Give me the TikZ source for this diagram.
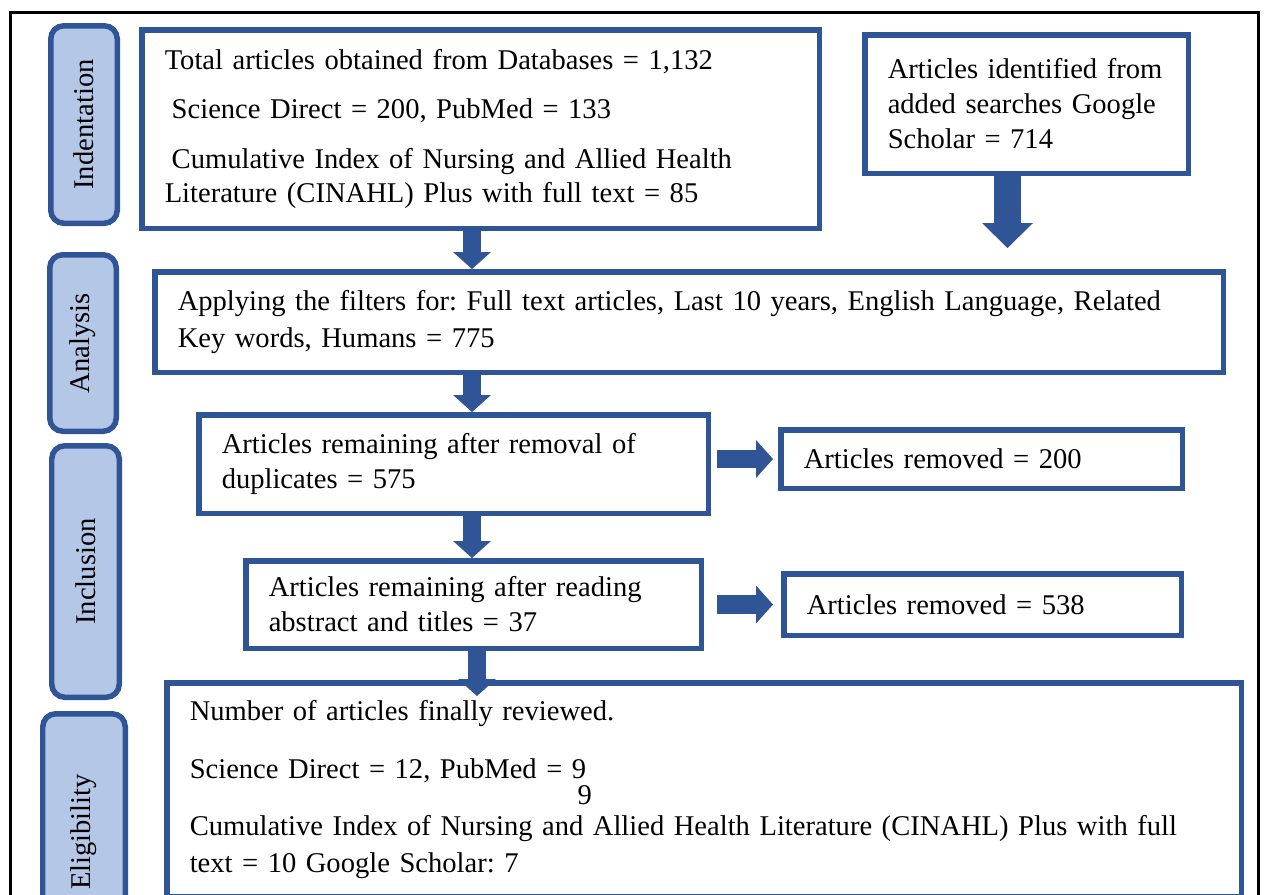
\documentclass[tikz,border=0pt]{standalone}
\usepackage{fontspec}
\setmainfont{Liberation Serif}
\usetikzlibrary{arrows.meta,calc}
\definecolor{boxblue}{HTML}{2F5597}
\definecolor{phaseblue}{HTML}{B4C7E7}

\begin{document}
\frenchspacing
\begin{tikzpicture}[font=\fontsize{8.13pt}{9.96pt}\selectfont,
	box/.style={draw=boxblue,line width=0.055cm,anchor=north west,align=left,inner xsep=0.23cm,inner ysep=0pt},
	phase/.style={draw=boxblue,fill=phaseblue,line width=0.055cm,rounded corners=0.13cm,rotate=90,inner sep=0pt},
	flowarrow/.style={draw=boxblue,line width=0.185cm,-{Triangle[width=0.38cm,length=0.17cm,line width=0pt]}},
	bigflow/.style={draw=boxblue,line width=0.27cm,-{Triangle[width=0.51cm,length=0.25cm,line width=0pt]}}]
	%page
	\useasboundingbox (0,0) rectangle (12.64,-8.94);
	\clip (0,0) rectangle (12.64,-8.94);
	\draw[line width=0.03cm] (0.10,-0.12) rectangle (12.58,-9.6); %outer frame

	%phases
	\node[phase,minimum width=1.975cm,minimum height=0.665cm] (indent) at (0.84,-1.245) {Indentation};
	\node[phase,minimum width=1.765cm,minimum height=0.665cm] (analysis) at (0.83,-3.43) {Analysis};
	\node[phase,minimum width=2.515cm,minimum height=0.675cm] (inclusion) at (0.855,-5.715) {Inclusion};
	\node[phase,minimum width=2.365cm,minimum height=0.825cm] (eligible) at (0.84,-8.32) {Eligibility};

	%boxes
	\node[box,text width=6.315cm,minimum height=1.985cm] (db) at (1.39,-0.27)
	  {Total articles obtained from Databases = 1,132\\[0.14cm]
	   \hspace*{0.07cm}Science Direct = 200, PubMed = 133\\[0.15cm]
	   \hspace*{0.07cm}Cumulative Index of Nursing and Allied Health\\[-0.01cm]
	   Literature (CINAHL) Plus with full text = 85}; %databases
	\node[box,text width=2.775cm,minimum height=1.385cm] (gs) at (8.62,-0.32)
	  {Articles identified from\\ added searches Google\\ Scholar = 714}; %google scholar
	\node[box,text width=10.225cm,minimum height=1.005cm] (filter) at (1.52,-2.69)
	  {Applying the filters for: Full text articles, Last 10 years, English Language, Related\\[0.02cm]
	   Key words, Humans = 775};
	\node[box,text width=4.635cm,minimum height=0.985cm] (dup) at (1.96,-4.12)
	  {Articles remaining after removal of\\ duplicates = 575};
	\node[box,text width=3.555cm,minimum height=0.585cm] (rem1) at (7.78,-4.27)
	  {Articles removed = 200};
	\node[box,text width=4.095cm,minimum height=0.875cm] (abs) at (2.43,-5.58)
	  {Articles remaining after reading\\ abstract and titles = 37};
	\node[box,text width=3.515cm,minimum height=0.615cm] (rem2) at (7.81,-5.71)
	  {Articles removed = 538};
	\node[box,text width=10.285cm,minimum height=2.135cm] (final) at (1.64,-6.80)
	  {Number of articles finally reviewed.\\[0.23cm]
	   Science Direct = 12, PubMed = 9\\[-0.09cm]
	   \hspace*{3.88cm}9\\[-0.04cm]
	   Cumulative Index of Nursing and Allied Health Literature (CINAHL) Plus with full\\[0.01cm]
	   text = 10 Google Scholar: 7}; %reviewed

	%arrows
	\coordinate (flow) at (4.72,0);
	\coordinate (flowend) at (4.77,0);
	\coordinate (gsflow) at (10.075,0);
	\draw[flowarrow] (db.south -| flow) -- (filter.north -| flow);
	\draw[bigflow] (gs.south -| gsflow) -- ($(filter.north -| gsflow)+(0,0.21)$);
	\draw[flowarrow] (filter.south -| flow) -- (dup.north -| flow);
	\draw[flowarrow] (dup.south -| flow) -- (abs.north -| flow);
	\draw[flowarrow] (abs.south -| flowend) -- ($(final.north -| flowend)+(0,-0.16)$);
	\draw[flowarrow] ($(dup.east |- rem1.west)+(0.06,0)$) -- ($(rem1.west)+(-0.05,0)$);
	\draw[flowarrow] ($(abs.east |- rem2.west)+(0.13,0)$) -- ($(rem2.west)+(-0.08,0)$);
\end{tikzpicture}
\end{document}
